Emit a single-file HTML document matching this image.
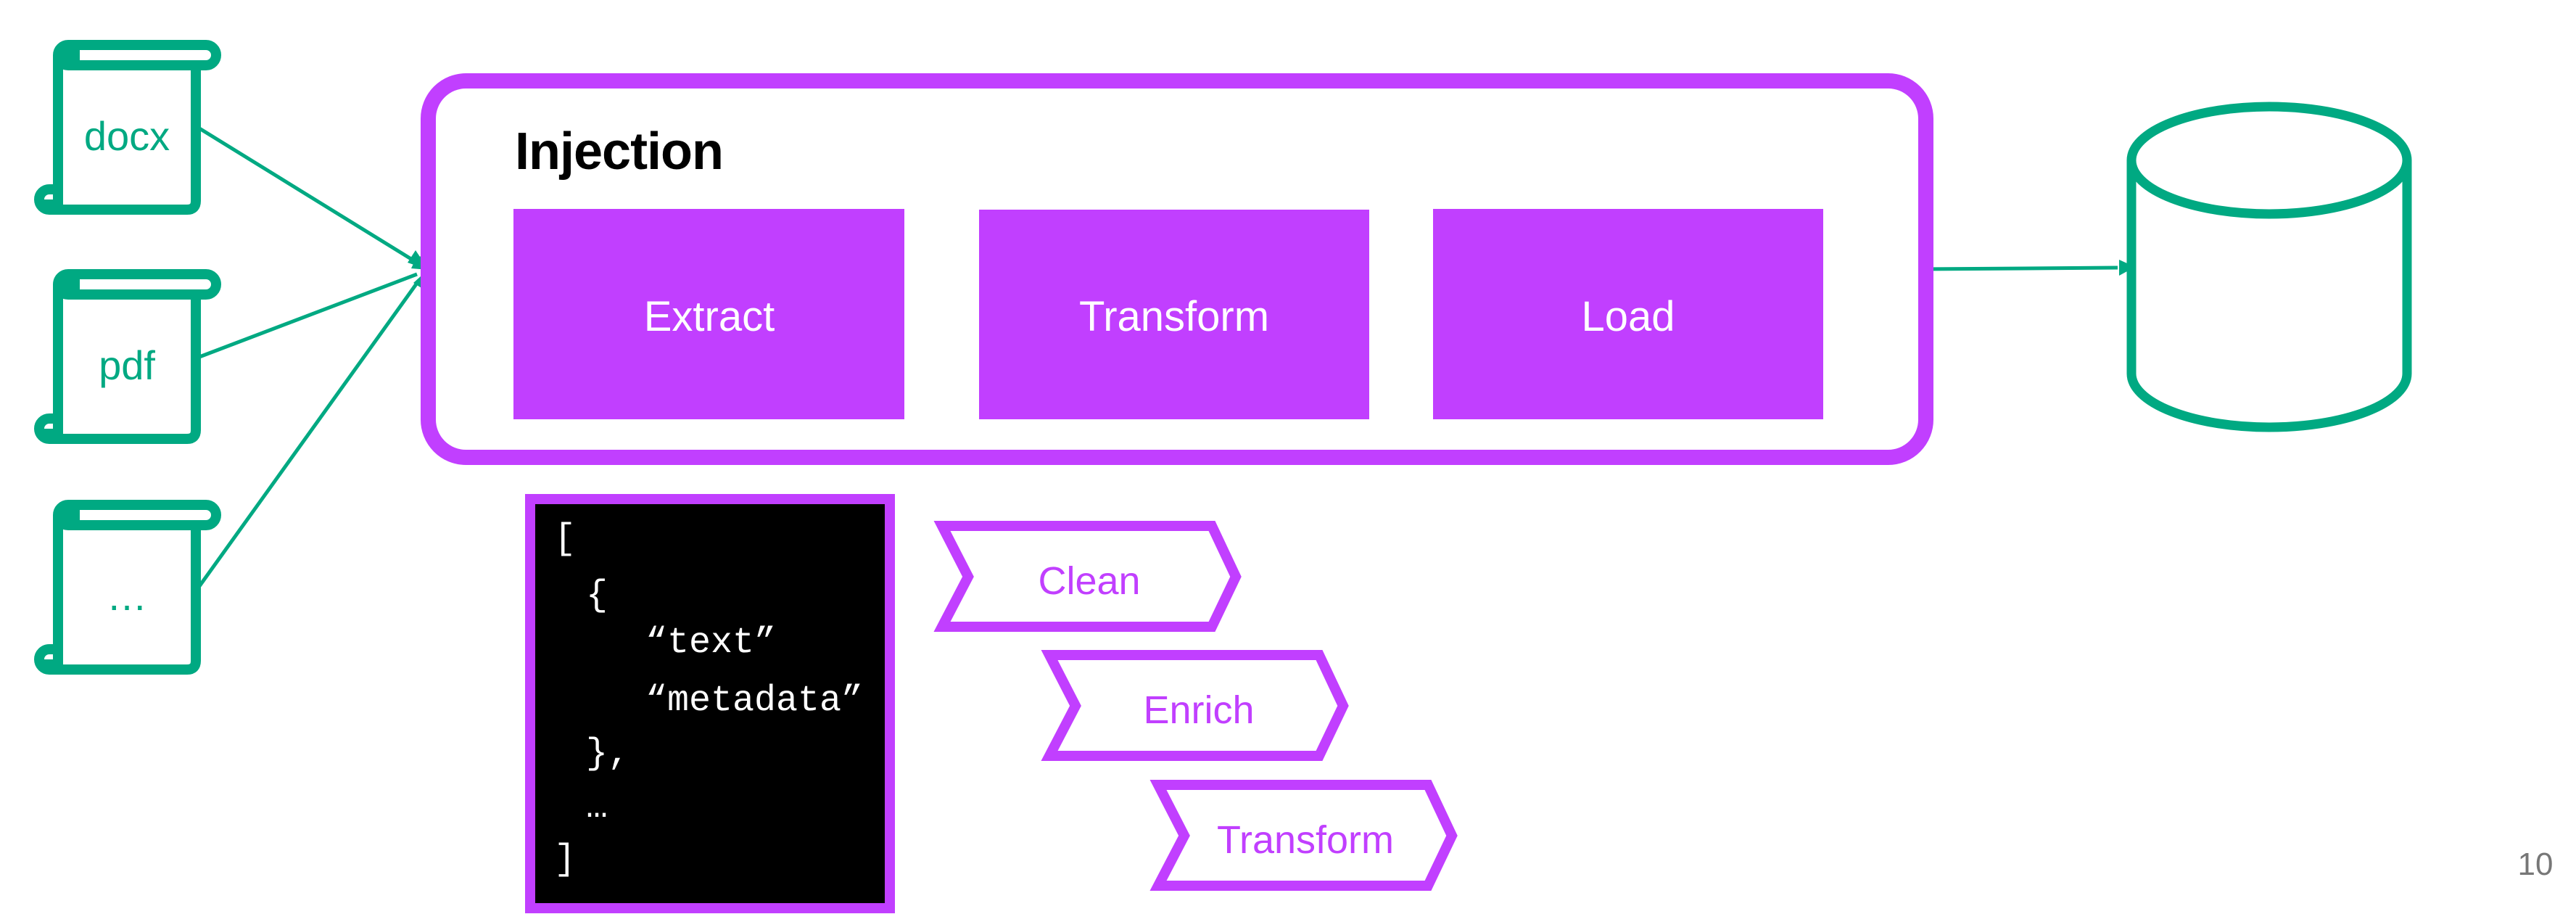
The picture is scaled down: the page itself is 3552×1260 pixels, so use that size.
<!DOCTYPE html>
<html><head><meta charset="utf-8"><style>
html,body{margin:0;padding:0;background:#fff}
svg{display:block}
</style></head><body>
<svg width="3552" height="1260" viewBox="0 0 3552 1260" xmlns="http://www.w3.org/2000/svg">
<defs>
<g id="doc" fill="none" stroke="#00A982" stroke-width="14" stroke-linejoin="round">
  <path d="M80,76 V289 H258 Q270,289 270,277 V97"/>
  <rect x="80" y="62" width="218" height="28" rx="14"/>
  <rect x="80" y="62" width="30" height="28" fill="#00A982" stroke="none"/>
  <path d="M80,261 H68 A14,14 0 0 0 68,289 H80" />
  <path d="M68,289 V275"/>
</g>
</defs>

<!-- documents -->
<use href="#doc"/>
<use href="#doc" y="316"/>
<use href="#doc" y="634"/>
<g font-family="Liberation Sans, sans-serif" font-size="56" fill="#00A982" text-anchor="middle">
<text x="175" y="207">docx</text>
<text x="175" y="523">pdf</text>
<text x="175" y="841">…</text>
</g>

<!-- connectors -->
<g stroke="#00A982" stroke-width="5" fill="none">
<line x1="275" y1="177" x2="575" y2="362"/>
<line x1="275" y1="492" x2="575" y2="378"/>
<line x1="275" y1="808" x2="578" y2="386"/>
<line x1="2658" y1="371" x2="2920" y2="369"/>
</g>
<polygon points="591,372 562,362 573,345" fill="#00A982"/>
<polygon points="591,372 567,370 574,355 585,352" fill="#00A982"/>
<polygon points="591,371 586,400 570,390" fill="#00A982"/>
<polygon points="2944,368 2922,358 2922,380" fill="#00A982"/>

<!-- injection box -->
<rect x="590.5" y="111.5" width="2065" height="519" rx="52" fill="none" stroke="#C13FFF" stroke-width="21"/>
<text x="710" y="233" font-family="Liberation Sans, sans-serif" font-weight="bold" font-size="72" fill="#000" letter-spacing="-1">Injection</text>
<rect x="708" y="288" width="539" height="290" fill="#C13FFF"/>
<rect x="1350" y="289" width="538" height="289" fill="#C13FFF"/>
<rect x="1976" y="288" width="538" height="290" fill="#C13FFF"/>
<g font-family="Liberation Sans, sans-serif" font-size="58" fill="#fff" text-anchor="middle">
<text x="978" y="456">Extract</text>
<text x="1619" y="456">Transform</text>
<text x="2245" y="456">Load</text>
</g>

<!-- database -->
<g fill="none" stroke="#00A982" stroke-width="13">
<ellipse cx="3129" cy="221" rx="190" ry="74"/>
<path d="M2939,221 V515 A190,74 0 0 0 3319,515 V221"/>
</g>

<!-- json box -->
<rect x="731" y="688" width="496" height="564" fill="#000" stroke="#C13FFF" stroke-width="14"/>
<g font-family="Liberation Mono, monospace" font-size="50" fill="#fff">
<text x="764" y="756">[</text>
<text x="808" y="834">{</text>
<text x="890" y="899">“text”</text>
<text x="890" y="979">“metadata”</text>
<text x="808" y="1052">},</text>
<text x="808" y="1126">…</text>
<text x="764" y="1198">]</text>
</g>

<!-- chevrons -->
<g fill="none" stroke="#C13FFF" stroke-width="14" stroke-linejoin="miter">
<polygon points="1299,725 1671,725 1704,795 1671,864 1299,864 1335,795"/>
<polygon points="1447,903 1819,903 1852,973 1819,1042 1447,1042 1483,973"/>
<polygon points="1597,1082 1969,1082 2002,1152 1969,1221 1597,1221 1633,1152"/>
</g>
<g font-family="Liberation Sans, sans-serif" font-size="54" fill="#C13FFF" text-anchor="middle">
<text x="1502" y="819">Clean</text>
<text x="1653" y="997">Enrich</text>
<text x="1800" y="1176">Transform</text>
</g>

<text x="3496" y="1206" font-family="Liberation Sans, sans-serif" font-size="44" fill="#777" text-anchor="middle">10</text>
</svg>
</body></html>
